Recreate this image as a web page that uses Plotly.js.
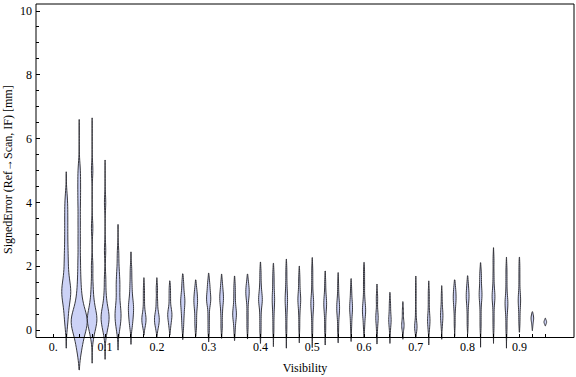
<!DOCTYPE html>
<html><head><meta charset="utf-8">
<script src="https://cdn.plot.ly/plotly-3.0.1.min.js"></script>
<style>html,body{margin:0;padding:0;background:#fff}#chart{width:576px;height:377px}</style>
</head><body><div id="chart"></div>
<script>
// ---- data ----
const visibility = [0.025,0.05,0.075,0.1,0.125,0.15,0.175,0.2,0.225,0.25,0.275,0.3,0.325,0.35,0.375,0.4,0.425,0.45,0.475,0.5,
                    0.525,0.55,0.575,0.6,0.625,0.65,0.675,0.7,0.725,0.75,0.775,0.8,0.825,0.85,0.875,0.9,0.925,0.95];
const errorSamples = [
  [0.2,0.5,0.8,1.0,1.1,1.2,1.3,1.4,1.6,1.9,2.2,2.5,2.9,3.3,3.7,4.1],
  [-0.7,-0.45,-0.25,-0.1,0,0.1,0.2,0.25,0.3,0.35,0.4,0.5,0.6,0.8,1.0,1.3,1.7,2.2,2.8,3.4,4.0,4.5,5.0],
  [-0.2,0,0.15,0.25,0.3,0.35,0.4,0.5,0.6,0.8,1.0,1.4,2.0,3.2,5.0],
  [-0.1,0.1,0.2,0.3,0.4,0.45,0.5,0.6,0.8,1.1,1.6,2.5,4.0],
  [0.0,0.2,0.35,0.45,0.55,0.7,0.9,1.2,1.4,1.6,1.9,2.4],
  [0.1,0.3,0.45,0.6,0.7,0.8,0.95,1.2,1.5,1.9],
  [0.1,0.2,0.3,0.35,0.4,0.5,0.7,1.0,1.3],
  [0.05,0.2,0.3,0.35,0.45,0.6,0.9,1.3],
  [0.1,0.3,0.4,0.5,0.55,0.7,1.0,1.3],
  [0.1,0.4,0.6,0.8,0.9,1.0,1.2,1.5],
  [0.1,0.4,0.7,0.85,0.95,1.1,1.3],
  [0.0,0.4,0.8,0.9,1.0,1.1,1.3,1.5],
  [0.1,0.5,0.8,0.95,1.05,1.2,1.45],
  [0.0,0.3,0.45,0.5,0.6,0.8,1.1,1.4],
  [0.1,0.5,0.9,1.1,1.2,1.3,1.5],
  [0.0,0.4,0.8,0.9,1.0,1.1,1.4,1.8],
  [0.0,0.4,0.7,0.9,1.0,1.2,1.5,1.8],
  [0.0,0.4,0.7,0.9,1.0,1.2,1.5,1.9],
  [0.1,0.5,0.8,0.9,1.0,1.1,1.4,1.7],
  [0.0,0.4,0.7,0.8,0.9,1.1,1.5,1.9],
  [0.0,0.4,0.7,0.8,0.9,1.1,1.5],
  [0.0,0.4,0.6,0.7,0.8,1.0,1.4],
  [0.1,0.4,0.6,0.7,0.8,1.0,1.3],
  [0.1,0.4,0.55,0.65,0.75,1.0,1.4,1.8],
  [0.0,0.25,0.35,0.45,0.6,0.9,1.1],
  [0.0,0.2,0.3,0.35,0.5,0.7,0.9],
  [0.0,0.1,0.15,0.2,0.3,0.5,0.65],
  [0.0,0.05,0.1,0.15,0.3,0.6,1.0,1.35],
  [0.0,0.2,0.3,0.4,0.6,0.9,1.2],
  [0.1,0.3,0.4,0.5,0.6,0.8,1.1],
  [0.2,0.6,0.85,0.95,1.05,1.2,1.35],
  [0.2,0.6,0.9,1.0,1.1,1.25,1.45],
  [0.1,0.5,0.9,1.05,1.15,1.3,1.6,1.8],
  [0.1,0.5,0.9,1.0,1.1,1.3,1.7,2.2],
  [0.0,0.4,0.7,0.8,0.9,1.1,1.5,1.9],
  [0.2,0.5,0.8,0.9,1.0,1.2,1.6,2.0],
  [0.15,0.3,0.35,0.4,0.45],
  [0.2,0.23,0.25,0.27,0.3]
];
const errorMin = [-0.57,-1.25,-1.04,-0.92,-0.63,-0.45,-0.16,-0.21,-0.16,-0.3,-0.2,-0.37,-0.26,-0.33,-0.28,-0.42,-0.52,-0.57,-0.4,-0.55,
                  -0.47,-0.4,-0.36,-0.23,-0.44,-0.42,-0.29,-0.25,-0.47,-0.29,-0.2,-0.12,-0.54,-0.42,-0.57,-0.07,-0.02,0.13];
const errorMax = [4.96,6.6,6.65,5.33,3.31,2.45,1.64,1.64,1.54,1.76,1.57,1.78,1.75,1.69,1.75,2.13,2.09,2.22,2.0,2.27,
                  1.85,1.8,1.61,2.12,1.44,1.18,0.89,1.69,1.54,1.39,1.57,1.7,2.11,2.58,2.28,2.28,0.57,0.37];
const xTickValues = [0,0.025,0.05,0.075,0.1,0.125,0.15,0.175,0.2,0.225,0.25,0.275,0.3,0.325,0.35,0.375,0.4,0.425,0.45,0.475,0.5,
                     0.525,0.55,0.575,0.6,0.625,0.65,0.675,0.7,0.725,0.75,0.775,0.8,0.825,0.85,0.875,0.9,0.925,0.95];
const xTickLabels = ['0.','','','','0.1','','','','0.2','','','','0.3','','','','0.4','','','','0.5',
                     '','','','0.6','','','','0.7','','','','0.8','','','','0.9','',''];
const yTickValues = [0,2,4,6,8,10];
const yTickLabels = ['0','2','4','6','8','10'];
const yMinorTickValues = [0.5,1,1.5,2.5,3,3.5,4.5,5,5.5,6.5,7,7.5,8.5,9,9.5];

// ---- style / layout ----
const violinPixelWidths = [9,16,9.5,8,6,5.2,4.2,4.8,4.2,4.2,3.7,4.2,3.7,3.7,3.4,3.7,2.4,2.4,2.8,2.8,2.8,2.8,2.8,3.2,2.4,2.4,2.4,2.4,2.4,2.4,2.8,2.8,2.8,2.8,2.8,2.4,2.6,2.6];
const kdeBandwidths = [0.3,0.3,0.25,0.25,0.25,0.2,0.15,0.15,0.15,0.18,0.18,0.18,0.18,0.18,0.18,0.2,0.2,0.2,0.2,0.2,
                       0.2,0.2,0.18,0.18,0.15,0.15,0.12,0.15,0.15,0.15,0.18,0.18,0.2,0.2,0.2,0.2,0.1,0.05];
const W = 576, H = 377;
const mL = 36, mR = 2, mT = 4, mB = 4;
const plotW = W - mL - mR, plotH = H - mT - mB;
const xPxPerUnit = 517.9, x0Px = 53.3;
const yPxPerUnit = 31.9, y0Px = 330;
const xRange = [(mL - x0Px) / xPxPerUnit, (W - mR - x0Px) / xPxPerUnit];
const yRange = [-(H - mB - y0Px) / yPxPerUnit, (y0Px - mT) / yPxPerUnit];
const frameBottomPx = 337.5;
const frameBottomFrac = (H - mB - frameBottomPx) / plotH;
const fillCol = '#ccd2f6';
const lineCol = 'rgba(45,45,52,0.95)';

const traces = visibility.map((v, i) => ({
  type: 'violin', x0: v, y: errorSamples[i], name: String(v),
  width: violinPixelWidths[i] / xPxPerUnit,
  bandwidth: kdeBandwidths[i],
  spanmode: 'manual', span: [errorMin[i], errorMax[i]],
  scalemode: 'width', points: false,
  box: {visible: false}, meanline: {visible: false},
  fillcolor: fillCol, line: {color: lineCol, width: 1},
  hoverinfo: 'skip'
}));

const fontFam = '"Liberation Serif", "Times New Roman", serif';
const axisCommon = {showgrid: false, zeroline: false, showline: false, tickcolor: '#000', tickwidth: 1};

const layout = {
  width: W, height: H,
  margin: {l: mL, r: mR, t: mT, b: mB, pad: 0},
  paper_bgcolor: '#fff', plot_bgcolor: 'rgba(0,0,0,0)',
  showlegend: false, violinmode: 'overlay',
  font: {family: fontFam, size: 12, color: '#000'},
  xaxis: Object.assign({}, axisCommon, {
    range: xRange, anchor: 'free', position: frameBottomFrac,
    tickmode: 'array', tickvals: xTickValues, ticktext: xTickLabels,
    ticks: 'inside', ticklen: 4,
    title: {text: 'Visibility', font: {family: fontFam, size: 12}, standoff: 11}
  }),
  xaxis2: Object.assign({}, axisCommon, {
    range: xRange, overlaying: 'x', side: 'top', anchor: 'y',
    tickmode: 'array', tickvals: xTickValues, showticklabels: false,
    ticks: 'inside', ticklen: 4
  }),
  yaxis: Object.assign({}, axisCommon, {
    range: yRange, tickmode: 'array', tickvals: yTickValues, ticktext: yTickLabels,
    ticks: 'inside', ticklen: 4, ticklabelstandoff: 3,
    minor: {tickmode: 'array', tickvals: yMinorTickValues, ticks: 'inside', ticklen: 2.5, tickcolor: '#000', showgrid: false}
  }),
  yaxis2: Object.assign({}, axisCommon, {
    range: yRange, overlaying: 'y', side: 'right', anchor: 'x',
    tickmode: 'array', tickvals: yTickValues, showticklabels: false,
    ticks: 'inside', ticklen: 4,
    minor: {tickmode: 'array', tickvals: yMinorTickValues, ticks: 'inside', ticklen: 2.5, tickcolor: '#000', showgrid: false}
  }),
  shapes: [{type: 'rect', xref: 'paper', yref: 'paper', x0: 0, x1: 1, y0: frameBottomFrac, y1: 1,
            line: {color: '#000', width: 1}, fillcolor: 'rgba(0,0,0,0)', layer: 'above'}],
  annotations: [{
    text: 'SignedError (Ref\u2192Scan, IF) [mm]', textangle: -90,
    xref: 'paper', yref: 'paper', x: (8 - mL) / plotW, xanchor: 'center',
    y: (H - mB - 170) / plotH, yanchor: 'middle', showarrow: false,
    font: {family: fontFam, size: 12, color: '#000'}
  }]
};

Plotly.newPlot('chart', traces, layout, {displayModeBar: false, staticPlot: true});
</script></body></html>
